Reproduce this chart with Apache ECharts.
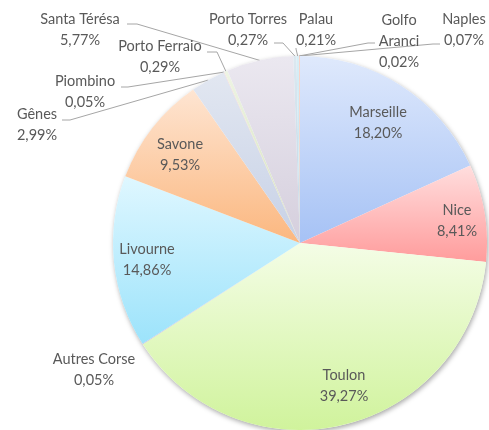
<!DOCTYPE html>
<html>
<head>
<meta charset="utf-8">
<script src="https://cdn.jsdelivr.net/npm/echarts@6/dist/echarts.min.js"></script>
<style>
html,body{margin:0;padding:0;background:#fff;}
#chart{width:489px;height:430px;}
</style>
</head>
<body>
<div id="chart"></div>
<script>
// ---- data ----
const categories = ['Marseille','Nice','Toulon','Autres Corse','Livourne','Savone','Gênes','Piombino','Porto Ferraio','Santa Térésa','Porto Torres','Palau','Golfo Aranci','Naples'];
const shares = [18.20, 8.41, 39.27, 0.05, 14.86, 9.53, 2.99, 0.05, 0.29, 5.77, 0.27, 0.21, 0.02, 0.07];

// ---- styles ----
const gradients = [
  ['#dfe9fc','#a6c2f5'],
  ['#ffdede','#ff9c9c'],
  ['#f4fde6','#d0f39c'],
  ['#e0d6ec','#c4b3dc'],
  ['#dff7ff','#9ce3fb'],
  ['#fee5d2','#fbb77f'],
  ['#e2e7f1','#c7d1e6'],
  ['#f2d6d6','#e4b4b4'],
  ['#eef4e4','#d3e2bb'],
  ['#ebe8f0','#d5cfdd'],
  ['#dce8f0','#c1d6e4'],
  ['#d8eef6','#bfe2ef'],
  ['#fde2cf','#f9c39c'],
  ['#f8cbc0','#f2aa9a']
];
// label centre, optional leader (elbow, end)
const labelPlace = [
  {x:378, y:123},
  {x:457, y:221},
  {x:344, y:386},
  {x:94,  y:370, outside:true},
  {x:147, y:260},
  {x:180, y:155},
  {x:37,  y:125, outside:true, line:[[70,120],[62,120]]},
  {x:85,  y:92,  outside:true, line:[[128,87],[121,87]]},
  {x:160, y:57,  outside:true, line:[[217,52],[207,52]]},
  {x:80,  y:30,  outside:true, line:[[137,24],[127,24]]},
  {x:248, y:30,  outside:true, line:[[283,43],[274,43]]},
  {x:316, y:30,  outside:true, line:[[296,49],[296,48]]},
  {x:399, y:41,  outside:true, line:[[368,43],[375,43]]},
  {x:464, y:30,  outside:true, line:[[433,44],[440,44]]}
];

const fmtPct = v => v.toFixed(2).replace('.', ',') + '%';

const data = categories.map((name, i) => ({
  name: name,
  value: shares[i],
  itemStyle: {
    color: new echarts.graphic.LinearGradient(0, 0, 0, 1, [
      {offset: 0, color: gradients[i][0]},
      {offset: 1, color: gradients[i][1]}
    ])
  },
  label: {
    show: true,
    position: labelPlace[i].outside ? 'outside' : 'inside'
  },
  labelLine: {
    show: !!labelPlace[i].line
  }
}));

const chart = echarts.init(document.getElementById('chart'), null, {renderer: 'canvas'});
chart.setOption({
  animation: false,
  backgroundColor: '#ffffff',
  series: [
    {
      type: 'pie',
      silent: true,
      center: [300, 243],
      radius: 187,
      z: 1,
      label: {show: false},
      labelLine: {show: false},
      itemStyle: {
        color: '#ffffff',
        shadowBlur: 5,
        shadowOffsetX: 1,
        shadowOffsetY: 2,
        shadowColor: 'rgba(0,0,0,0.35)'
      },
      data: [{value: 1, name: ''}]
    },
    {
      type: 'pie',
      center: [300, 243],
      radius: 187,
      startAngle: 90,
      clockwise: true,
      z: 2,
      avoidLabelOverlap: false,
      minShowLabelAngle: 0,
      itemStyle: {borderWidth: 0},
      label: {
        fontFamily: 'Lato',
        fontSize: 14.5,
        color: '#595959',
        lineHeight: 21,
        align: 'center',
        formatter: p => {
          const nm = p.name === 'Golfo Aranci' ? 'Golfo\nAranci' : p.name;
          return nm + '\n' + fmtPct(p.value);
        }
      },
      labelLine: {
        lineStyle: {color: '#a6a6a6', width: 1}
      },
      labelLayout: function (p) {
        const s = labelPlace[p.dataIndex];
        const res = {x: s.x, y: s.y, align: 'center', verticalAlign: 'middle'};
        if (s.line && p.labelLinePoints) {
          res.labelLinePoints = [p.labelLinePoints[0], s.line[0], s.line[1]];
        }
        return res;
      },
      data: data
    }
  ]
});
</script>
</body>
</html>
